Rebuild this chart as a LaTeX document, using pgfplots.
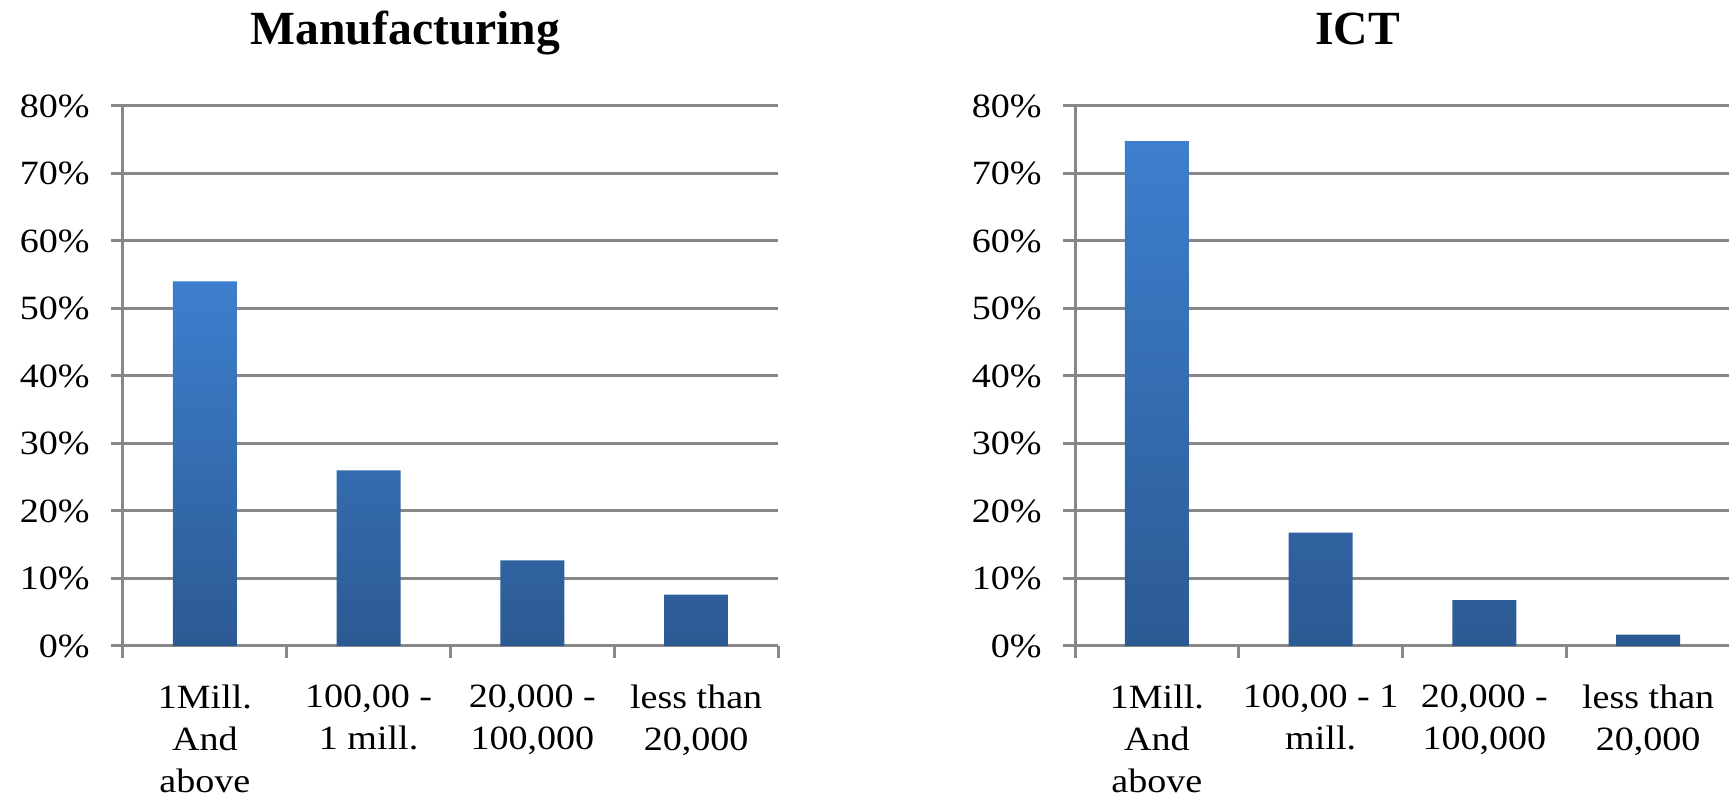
\documentclass[border=0pt]{standalone}
\usepackage{fontspec}
\setmainfont{Liberation Serif}
\usepackage{pgfplots}
\pgfplotsset{compat=1.18}
\definecolor{gridgray}{HTML}{878787}
\definecolor{barTop}{HTML}{3D7FCE}
\definecolor{barBot}{HTML}{2C5A93}
\pgfplotsset{
 panel/.style={
  width=327.5pt, height=270pt, scale only axis,
  xmin=-0.5, xmax=3.5, ymin=0, ymax=80,
  xtick={-0.5,0.5,1.5,2.5,3.5},
  ytick={0,10,...,80},
  yticklabels={0\%,10\%,20\%,30\%,40\%,50\%,60\%,70\%,80\%},
  axis x line=bottom, axis y line=left,
  axis line style={-, draw=gridgray, line width=1.5pt},
  ymajorgrids, grid style={draw=gridgray, line width=1.5pt},
  tick align=outside, major tick length=6pt,
  tick style={draw=gridgray, line width=1.5pt},
  xticklabel style={xshift=40.94pt, align=center, font=\fontsize{17}{21}\selectfont, xscale=1.12, anchor=north, yshift=-10pt},
  yticklabel style={font=\fontsize{17}{20}\selectfont, xscale=1.12, xshift=-6pt},
  title style={font=\bfseries\fontsize{23.8}{26}\selectfont, at={(0.5,1)}, anchor=base, yshift=24.5pt, xshift=-22.5pt},
  clip=false,
 }
}
\begin{document}
\begin{tikzpicture}
\path[use as bounding box] (0,0) rectangle (864.5pt,401pt);
\begin{axis}[panel, at={(61.5pt,78pt)}, anchor=south west, title={Manufacturing},
  xticklabels={{1Mill.\\And\\above},{100,00 -\\1 mill.},{20,000 -\\100,000},{less than\\20,000},{}}]
\addplot[ybar, bar width=32pt, draw=none, top color=barTop, bottom color=barBot]
  coordinates {(0,54.0) (1,26.0) (2,12.7) (3,7.6)};
\end{axis}
\begin{axis}[panel, at={(537.5pt,78pt)}, anchor=south west, title={ICT},
  xticklabels={{1Mill.\\And\\above},{100,00 - 1\\mill.},{20,000 -\\100,000},{less than\\20,000},{}}]
\addplot[ybar, bar width=32pt, draw=none, top color=barTop, bottom color=barBot]
  coordinates {(0,74.8) (1,16.8) (2,6.8) (3,1.7)};
\end{axis}
\end{tikzpicture}
\end{document}
